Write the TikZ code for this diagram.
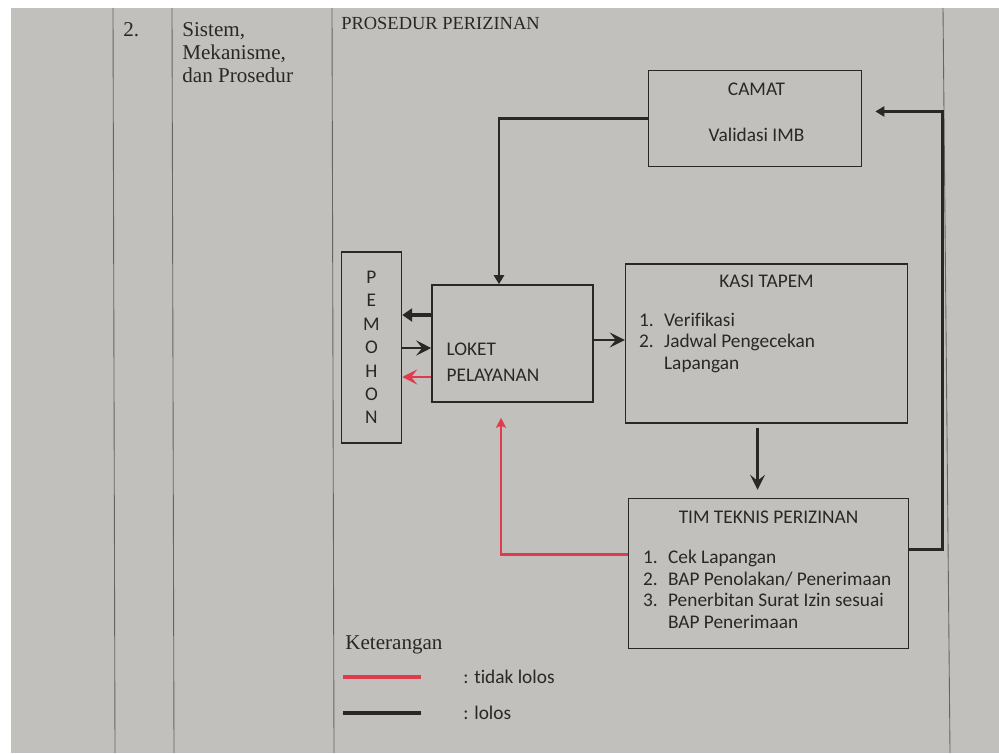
\documentclass[tikz,border=0pt]{standalone}
\usepackage{fontspec}
\setmainfont{Liberation Serif}
\newfontfamily\diagfont[Ligatures=NoCommon]{Carlito}
\usetikzlibrary{positioning,arrows.meta,calc}
\definecolor{paper}{RGB}{194,192,188}
\definecolor{ink}{RGB}{42,40,38}
\definecolor{tolak}{RGB}{222,60,76}
\definecolor{garis}{RGB}{100,100,100}

\begin{document}
\begin{tikzpicture}[x=0.02cm, y=-0.02cm,
  every node/.style={inner sep=0pt, text=ink},
  doc/.style={font=\fontsize{12}{13}\selectfont, anchor=base west},
  panel/.style={draw=ink, line width=0.9pt, font=\diagfont\fontsize{11}{12.2}\selectfont, align=center},
  paneltext/.style={font=\diagfont\fontsize{11}{12.2}\selectfont, anchor=base west},
  lolos/.style={draw=ink, line width=1.6pt, -{Triangle[length=0.18cm, width=0.2cm]}},
  lolostebal/.style={draw=ink, line width=2.6pt, -{Triangle[length=0.2cm, width=0.26cm]}},
  loloskait/.style={draw=ink, line width=1.2pt, -{Stealth[length=0.3cm, width=0.3cm, inset=0.12cm]}},
  tidak/.style={draw=tolak, line width=1.3pt, -{Stealth[length=0.2cm, width=0.2cm, inset=0.04cm]}},
  tidakkait/.style={draw=tolak, line width=1.3pt, -{Stealth[length=0.3cm, width=0.3cm, inset=0.12cm]}},
  legenda/.style={line width=2.2pt}]

% kertas dan garis tabel
\useasboundingbox (0,0) rectangle (999,753);
\fill[white] (0,0) rectangle (999,753);
\fill[paper] (11,8) rectangle (999,753);
\draw[garis, line width=0.5pt] (113,8) -- (115,753);
\draw[garis, line width=0.5pt] (172,8) -- (174,753);
\draw[garis, line width=0.5pt] (332,8) -- (334,753);
\draw[garis, line width=0.5pt] (943,8) -- (950,753);

\node[doc] (nomor) at (123,37) {2.};
\node[doc] (aspek) at (182,37) {\begin{tabular}[t]{@{}l@{}}Sistem,\\Mekanisme,\\dan Prosedur\end{tabular}};
\node[doc, font=\fontsize{10.5}{12}\selectfont] (judul) at (341,30) {PROSEDUR PERIZINAN};

% kotak alur
\node[panel, minimum width=3.22cm, minimum height=2.34cm] (loket) at (512.5,343.5) {};
\node[panel, minimum width=5.64cm, minimum height=3.18cm, right=0.62cm of loket] (kasi) {};
\node[panel, minimum width=1.2cm, minimum height=3.82cm, left=0.58cm of loket, yshift=-0.08cm,
  font=\diagfont\fontsize{11}{13.3}\selectfont] (pemohon) {P\\E\\M\\O\\H\\O\\N};
\node[panel, minimum width=5.6cm, minimum height=3cm, below=1.48cm of kasi, xshift=0.04cm] (tim) {};
\node[panel, minimum width=4.26cm, minimum height=1.92cm, above=1.92cm of kasi, xshift=-0.23cm] (camat) {};

% isi kotak
\node[paneltext, anchor=base] (camattext) at ($(camat.north)+(1.5,26)$)
  {\begin{tabular}[t]{@{}c@{}}CAMAT\\[14pt]Validasi IMB\end{tabular}};
\node[paneltext] (lokettext) at ($(loket.north west)+(15,71)$)
  {\begin{tabular}[t]{@{}l@{}}LOKET\\[3pt]PELAYANAN\end{tabular}};
\node[paneltext, anchor=base] (kasititle) at ($(kasi.north)+(0,24)$) {KASI TAPEM};
\node[paneltext] (kasilist) at ($(kasi.north west)+(14,63)$)
  {\begin{tabular}[t]{@{}p{0.5cm}@{}l@{}}1. & Verifikasi\\ 2. & Jadwal Pengecekan\\ & Lapangan\end{tabular}};
\node[paneltext, anchor=base] (timtitle) at ($(tim.north)+(0,26)$) {TIM TEKNIS PERIZINAN};
\node[paneltext] (timlist) at ($(tim.north west)+(15,66)$)
  {\begin{tabular}[t]{@{}p{0.5cm}@{}l@{}}1. & Cek Lapangan\\ 2. & BAP Penolakan/ Penerimaan\\ 3. & Penerbitan Surat Izin sesuai\\ & BAP Penerimaan\end{tabular}};

% penghubung
\coordinate (kasiout) at ($(kasi.south)+(-9,0)$);
\coordinate (balik) at ($(camat.east)+(80,-7)$);
\coordinate (tolakin) at ($(loket.south)+(-11.5,0)$);
\coordinate (keluar) at ($(loket.west)+(0,-28.5)$);
\coordinate (masuk) at ($(loket.west)+(0,4.5)$);
\coordinate (kembali) at ($(loket.west)+(0,33.5)$);

\draw[lolos] (camat.west) -| ($(loket.north)+(-13.5,0)$);
\draw[loloskait] ($(loket.east)+(0,-3.5)$) -- ($(kasi.west)+(0,-3.5)$);
\draw[loloskait, shorten <=0.08cm, shorten >=0.16cm] (kasiout) -- (kasiout |- tim.north);
\draw[lolos, shorten >=0.26cm] ($(tim.east)+(0,-24)$) -| (balik) -- ($(camat.east)+(0,-7)$);
\draw[tidak, shorten >=0.3cm] ($(tim.west)+(0,-19)$) -| (tolakin);
\draw[lolostebal] (keluar) -- (keluar -| pemohon.east);
\draw[loloskait] (masuk -| pemohon.east) -- (masuk);
\draw[tidakkait] (kembali) -- (kembali -| pemohon.east);

% keterangan
\node[doc] (ket) at (345,649) {Keterangan};
\coordinate (merahA) at (343,677);
\coordinate (merahB) at (421,677);
\coordinate (hitamA) at (343,713);
\coordinate (hitamB) at (421,713);
\draw[legenda, tolak] (merahA) -- (merahB);
\draw[legenda, ink] (hitamA) -- (hitamB);
\node[paneltext, anchor=west, right=0.84cm of merahB] (kettolak) {: tidak lolos};
\node[paneltext, anchor=west, right=0.84cm of hitamB] (ketlolos) {: lolos};
\end{tikzpicture}
\end{document}
